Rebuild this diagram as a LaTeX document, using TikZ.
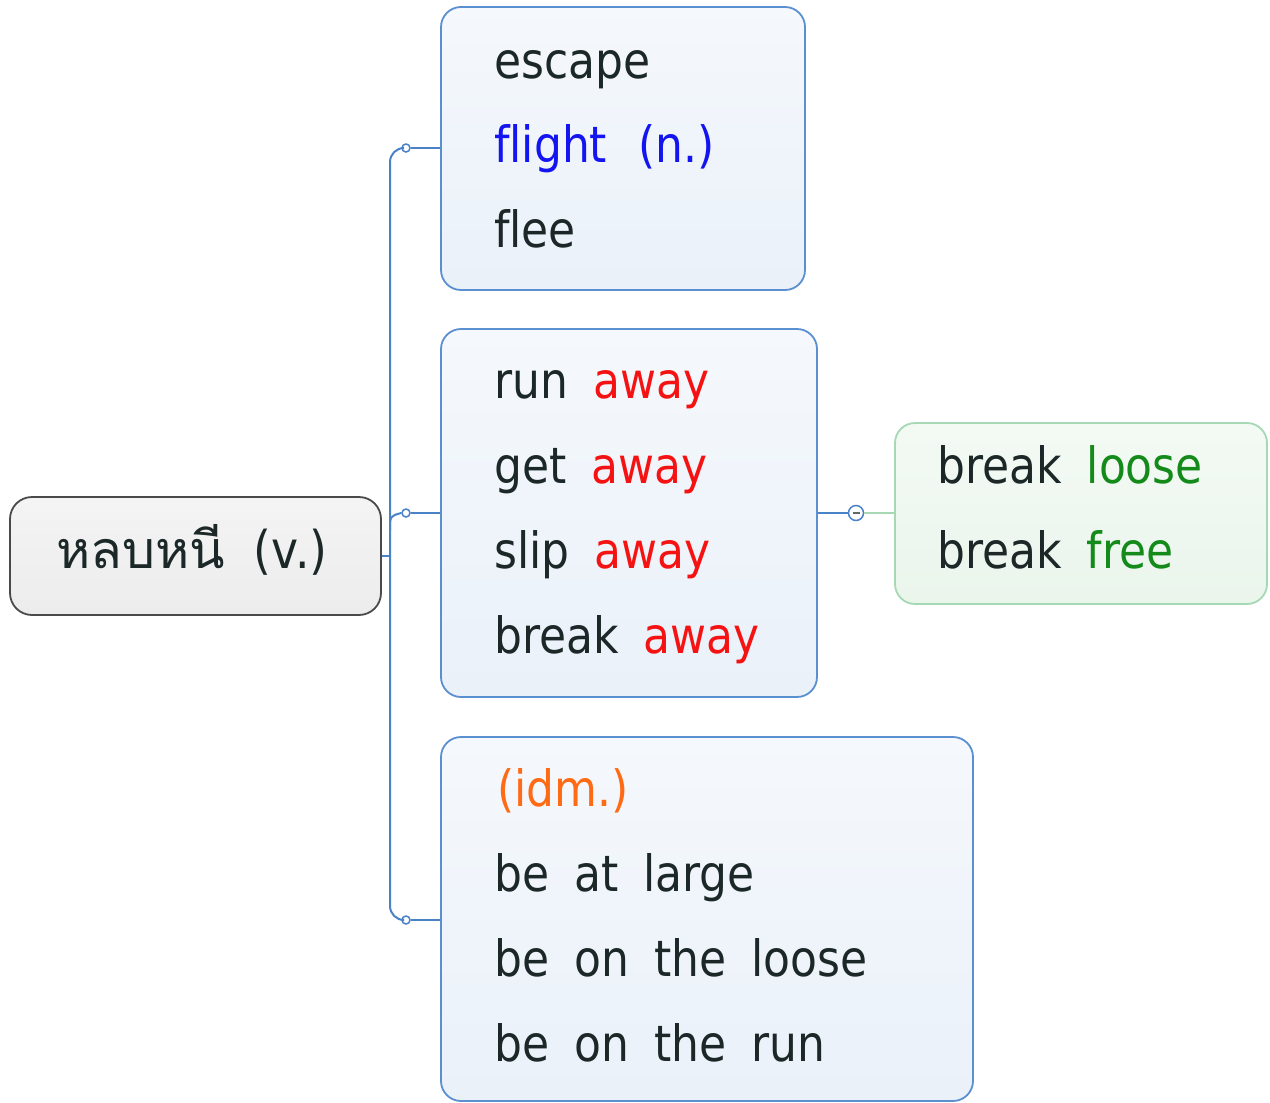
\documentclass[tikz,border=0pt]{standalone}
\usepackage{fontspec}
\setmainfont{DejaVu Sans}[FakeStretch=0.88, Ligatures=NoCommon]
\newfontfamily\thaifont[Script=Thai]{Loma}
\usetikzlibrary{calc}
\definecolor{ink}{HTML}{1C2828}
\definecolor{lineblue}{HTML}{4A82C8}
\definecolor{boxblue}{HTML}{5A8FD0}
\definecolor{filltop}{HTML}{F5F8FC}
\definecolor{fillbot}{HTML}{EAF1F9}
\definecolor{greenline}{HTML}{A6D8B4}
\definecolor{greentop}{HTML}{F3FAF4}
\definecolor{greenbot}{HTML}{EAF5EC}
\definecolor{roottop}{HTML}{F4F4F4}
\definecolor{rootbot}{HTML}{ECECEC}
\definecolor{wred}{HTML}{F51212}
\definecolor{wblue}{HTML}{1414F0}
\definecolor{wgreen}{HTML}{138A1A}
\definecolor{worange}{HTML}{FF6A14}
\definecolor{rootline}{HTML}{4A4A4A}
\newcommand\ws{\hspace{0.5em}}
\begin{document}
\begin{tikzpicture}[x=1pt,y=-1pt,
  bluebox/.style={draw=boxblue, line width=1.8pt, rounded corners=20pt, top color=filltop, bottom color=fillbot, inner sep=0pt},
  greenbox/.style={draw=greenline, line width=1.8pt, rounded corners=20pt, top color=greentop, bottom color=greenbot, inner sep=0pt},
  rootbox/.style={draw=rootline, line width=1.8pt, rounded corners=22pt, top color=roottop, bottom color=rootbot, inner sep=0pt},
  txt/.style={anchor=base west, inner sep=0pt, font=\fontsize{50}{60}\selectfont, text=ink},
  conn/.style={draw=lineblue, line width=2pt},
  knob/.style={circle, draw=lineblue, fill=white, line width=1.5pt, minimum size=8pt, inner sep=0pt}
]
\useasboundingbox (0,0) rectangle (1270,1103);

% boxes
\node[rootbox, minimum width=371pt, minimum height=118pt] (root) at (195.5,556) {};
\node[bluebox, minimum width=364pt, minimum height=283pt] (b1) at (623,148.5) {};
\node[bluebox, minimum width=376pt, minimum height=368pt] (b2) at (629,513) {};
\node[greenbox, minimum width=372pt, minimum height=181pt] (b3) at (1081,513.5) {};
\node[bluebox, minimum width=532pt, minimum height=364pt] (b4) at (707,919) {};

% root text
\node[inner sep=0pt, anchor=base, font=\fontsize{52}{60}\selectfont, text=ink] (rt) at (192,568) {{\thaifont หลบหนี}\hspace{0.55em}(v.)};

% box 1
\node[txt] (l11) at (494,78) {escape};
\node[txt, text=wblue] (l12) at (494,162) {flight\hspace{0.62em}(n.)};
\node[txt] (l13) at (494,247) {flee};

% box 2
\node[txt] (l21) at (494,398) {run\ws\textcolor{wred}{away}};
\node[txt] (l22) at (494,483) {get\ws\textcolor{wred}{away}};
\node[txt] (l23) at (494,568) {slip\ws\textcolor{wred}{away}};
\node[txt] (l24) at (494,653) {break\ws\textcolor{wred}{away}};

% box 3
\node[txt] (l31) at (937,483) {break\ws\textcolor{wgreen}{loose}};
\node[txt] (l32) at (937,568) {break\ws\textcolor{wgreen}{free}};

% box 4
\node[txt, text=worange] (l41) at (497,806) {(idm.)};
\node[txt] (l42) at (494,891) {be\ws at\ws large};
\node[txt] (l43) at (494,976) {be\ws on\ws the\ws loose};
\node[txt] (l44) at (494,1061) {be\ws on\ws the\ws run};

% connectors
\coordinate (tA) at (390,148);
\coordinate (tM) at (390,530);
\coordinate (tB) at (390,920);
\node[knob] (k1) at (406,148) {};
\node[knob] (k2) at (406,513) {};
\node[knob] (k3) at (406,920) {};

\draw[conn, rounded corners=14pt] (k1.west) -- (tA) -- (tB) -- (k3.west);
\draw[conn] (tM) .. controls (390,516) .. (k2.west);
\draw[conn] (root.east) -- (root.east -| tA);
\draw[conn] (k1.east) -- (k1 -| b1.west);
\draw[conn] (k2.east) -- (k2 -| b2.west);
\draw[conn] (k3.east) -- (k3 -| b4.west);

\node[knob, minimum size=15pt] (k4) at (856,513) {};
\draw[conn] (b2.east) -- (k4.west);
\draw[draw=greenline, line width=2pt] (k4.east) -- (k4 -| b3.west);
\draw[draw=ink!70, line width=1.5pt] ($(k4.center)+(-3.5,0)$) -- ($(k4.center)+(3.5,0)$);
\end{tikzpicture}
\end{document}
